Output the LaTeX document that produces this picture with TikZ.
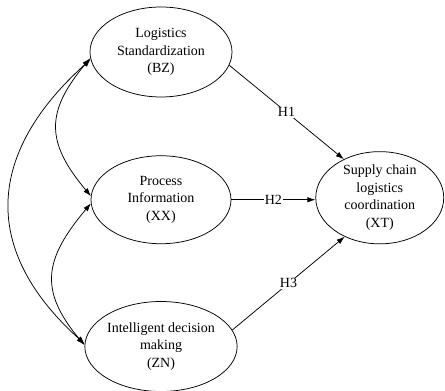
\documentclass[tikz,border=0pt]{standalone}
\usepackage{fontspec}
\setmainfont{Liberation Serif}
\usetikzlibrary{shapes.geometric,arrows.meta,positioning}

\tikzset{
  factor/.style={draw, ellipse, inner sep=0pt, align=center,
                 minimum width=142pt, minimum height=90pt},
  hyp/.style={-{Latex[length=8pt,width=5.5pt]}},
  corr/.style={{Latex[length=8pt,width=5.5pt]}-{Latex[length=8pt,width=5.5pt]}},
  hlabel/.style={fill=white, inner sep=1pt}
}

\begin{document}
\begin{tikzpicture}[x=1pt, y=1pt, line width=0.75pt,
                    every node/.style={font=\fontsize{14}{17.5}\selectfont}]
  \useasboundingbox (0,0) rectangle (445,391);

  \node (BZ)
        [factor] at (161,339)
        {Logistics\\Standardization\\(BZ)};
  \node (XX)
        [factor,minimum width=140pt,minimum height=88pt,below=58pt of BZ]
        {Process\\Information\\(XX)};
  \node (ZN)
        [factor,below=57pt of XX]
        {Intelligent decision\\making\\(ZN)};
  \node (XT)
        [factor,minimum width=128pt,minimum height=86pt,right=84pt of XX,yshift=2pt]
        {Supply chain\\logistics\\coordination\\(XT)};

  % hypotheses
  \draw[hyp] (BZ.-11) -- node[hlabel] {H1} (XT.133);
  \draw[hyp] (XX.east) -- node[hlabel] {H2} (XX.east -| XT.west);
  \draw[hyp] (ZN.13) -- node[hlabel] {H3} (XT.-132);

  % correlations between the factors
  \draw[corr] (BZ.185) to[out=230,in=130,looseness=1.3] (XX.177);
  \draw[corr] (XX.183) to[out=230,in=130,looseness=1.3] (ZN.179);
  \draw[corr] (BZ.186) to[out=222,in=138,looseness=1.26] (ZN.178);
\end{tikzpicture}
\end{document}
